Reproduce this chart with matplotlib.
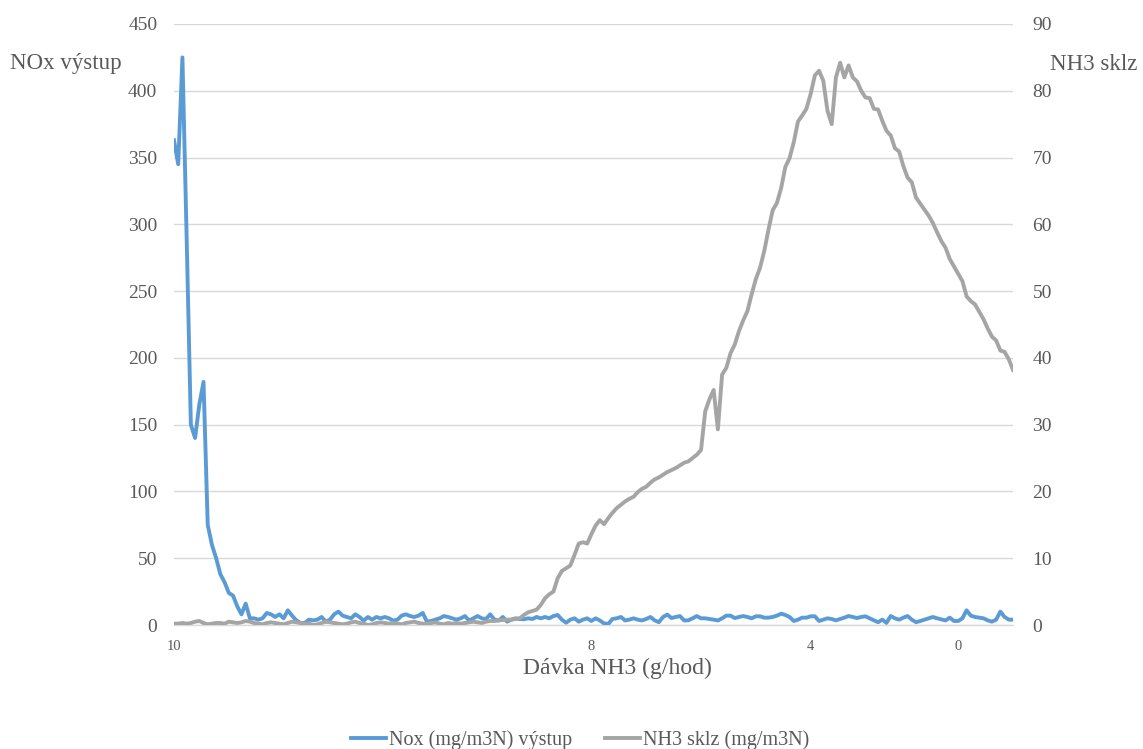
import matplotlib
matplotlib.use("Agg")
import matplotlib.pyplot as plt
from matplotlib.lines import Line2D

# NOx at the outlet (mg/m3N), one value per measurement
nox = [
    363, 345, 425, 290, 150, 140, 165, 182, 75, 60,
    50, 38, 32, 24, 22, 14, 8, 16, 5, 5,
    4, 5, 9, 8, 6, 8, 5, 11, 7, 3.5,
    1.5, 1.5, 4, 3.5, 4, 6, 2.5, 4, 8, 10,
    7, 6, 5, 8, 6, 3.3, 6, 4, 6, 5,
    6, 5, 3.3, 4, 7, 8, 6.7, 6, 7, 9,
    2.5, 3, 4, 5, 6.7, 6, 5, 4, 5, 6.7,
    3.3, 5, 6.7, 5, 4.5, 8, 4, 3.3, 6, 2.5,
    4, 5, 4.5, 4.3, 5, 4.5, 6, 5, 6, 5,
    6.7, 7.5, 4, 1.7, 4, 5, 2.5, 4, 5, 3,
    5, 3.4, 1.2, 0.8, 4.5, 5, 6, 3.4, 4, 5,
    4, 3.4, 4.5, 6, 3.5, 2.1, 6, 7.8, 5.2, 6,
    6.7, 3.4, 3.5, 5, 6.7, 5, 5, 4.5, 4, 3.4,
    5, 7, 7, 5.2, 6, 6.7, 6, 5, 6.5, 6.5,
    5.5, 5.5, 6, 7, 8.5, 7.5, 6, 3, 4, 5.5,
    5.5, 6.5, 6.5, 3, 4, 5, 4.5, 3.5, 4.5, 5.5,
    6.7, 6, 5.2, 6, 6.5, 5, 3.5, 2.1, 4, 1.6,
    6.7, 5, 4, 5.5, 6.7, 4, 2.1, 3, 4, 5,
    6, 5, 4.2, 3.4, 5.5, 3, 3, 5, 11, 7,
    6, 5.5, 5, 3.5, 2.5, 4, 10, 6, 4, 4,
]

# NH3 slip (mg/m3N), same measurements
nh3 = [
    0.2, 0.2, 0.3, 0.2, 0.3, 0.5, 0.6, 0.3, 0.1, 0.2,
    0.3, 0.3, 0.2, 0.5, 0.4, 0.3, 0.4, 0.6, 0.5, 0.3,
    0.2, 0.1, 0.3, 0.4, 0.3, 0.2, 0.1, 0.3, 0.5, 0.4,
    0.3, 0.2, 0.2, 0.0, 0.1, 0.3, 0.5, 0.4, 0.3, 0.2,
    0.1, 0.2, 0.4, 0.5, 0.3, 0.2, 0.0, 0.1, 0.3, 0.4,
    0.3, 0.2, 0.3, 0.2, 0.1, 0.3, 0.4, 0.5, 0.3, 0.2,
    0.2, 0.3, 0.4, 0.2, 0.1, 0.3, 0.2, 0.3, 0.2, 0.3,
    0.4, 0.5, 0.4, 0.3, 0.5, 0.6, 0.6, 0.7, 0.75, 0.8,
    0.8, 0.9, 1.0, 1.5, 1.9, 2.1, 2.3, 3.0, 4.0, 4.6,
    5.0, 7.0, 8.1, 8.5, 8.9, 10.5, 12.2, 12.4, 12.2, 13.6,
    14.9, 15.7, 15.1, 16.0, 16.8, 17.5, 18.0, 18.5, 18.9, 19.2,
    19.9, 20.4, 20.7, 21.3, 21.8, 22.1, 22.5, 22.9, 23.2, 23.5,
    23.9, 24.3, 24.5, 25.0, 25.5, 26.2, 32.0, 33.8, 35.2, 29.3,
    37.5, 38.5, 40.7, 42.0, 44.0, 45.6, 47.0, 49.5, 51.8, 53.5,
    56.0, 59.2, 62.1, 63.2, 65.4, 68.6, 69.9, 72.3, 75.4, 76.3,
    77.3, 79.5, 82.3, 83.0, 81.5, 77.0, 75.0, 82.0, 84.2, 82.0,
    83.8, 82.0, 81.4, 80.0, 79.0, 78.9, 77.3, 77.2, 75.5, 74.0,
    73.3, 71.4, 70.9, 68.7, 67.0, 66.3, 64.0, 63.1, 62.2, 61.3,
    60.2, 58.8, 57.5, 56.5, 54.8, 53.7, 52.6, 51.5, 49.2, 48.5,
    48.0, 46.9, 45.8, 44.4, 43.2, 42.6, 41.1, 40.9, 39.8, 38.2,
]

# NH3 dose labels shown on the category axis
dose_tick_pos = [0, 99, 151, 186]
dose_tick_labels = ["10", "8", "4", "0"]

left_ticks = list(range(0, 451, 50))
right_ticks = list(range(0, 91, 10))

BLUE = "#5B9BD5"
GRAY = "#A5A5A5"
TXT = "#595959"
GRID = "#D9D9D9"

plt.rcParams["font.family"] = ["Liberation Serif", "DejaVu Serif"]

fig = plt.figure(figsize=(11.43, 7.49), dpi=100)
ax = fig.add_axes([174 / 1143, 1 - 625 / 749, (1013 - 174) / 1143, (625 - 24) / 749])
ax2 = ax.twinx()

idx = list(range(len(nox)))
ax.plot(idx, nox, color=BLUE, lw=2.8, solid_joinstyle="round", zorder=3)
ax2.plot(idx, nh3, color=GRAY, lw=2.8, solid_joinstyle="round", zorder=3)

ax.set_xlim(0, len(nox) - 1)
ax.set_ylim(0, 450)
ax2.set_ylim(0, 90)
ax.set_yticks(left_ticks)
ax2.set_yticks(right_ticks)
ax.set_xticks(dose_tick_pos)
ax.set_xticklabels(dose_tick_labels)

ax.grid(axis="y", color=GRID, lw=1.0)
ax.set_axisbelow(True)
for a in (ax, ax2):
    for s in a.spines.values():
        s.set_visible(False)
ax.spines["bottom"].set_visible(True)
ax.spines["bottom"].set_color(GRID)
ax.spines["bottom"].set_linewidth(1.0)

ax.tick_params(axis="y", length=0, pad=12, labelsize=14, labelcolor=TXT)
ax2.tick_params(axis="y", length=0, pad=14, labelsize=14, labelcolor=TXT)
ax.tick_params(axis="x", length=0, pad=11, labelsize=10.5, labelcolor=TXT)

fig.text(10 / 1143, 1 - 64 / 749, "NOx výstup", fontsize=16.5, color=TXT,
         ha="left", va="center")
fig.text(1050 / 1143, 1 - 64 / 749, "NH3 sklz", fontsize=16.5, color=TXT,
         ha="left", va="center")
fig.text(617 / 1143, 1 - 668 / 749, "Dávka NH3 (g/hod)", fontsize=17, color=TXT,
         ha="center", va="center")

handles = [Line2D([], [], color=BLUE, lw=2.8), Line2D([], [], color=GRAY, lw=2.8)]
fig.legend(handles, ["Nox (mg/m3N) výstup", "NH3 sklz (mg/m3N)"],
           loc="center", bbox_to_anchor=(580 / 1143, 1 - 740 / 749), ncol=2,
           frameon=False, fontsize=14.5, labelcolor=TXT, handlelength=1.75,
           handletextpad=0.15, columnspacing=1.6)

fig.savefig("out.png", dpi=100, facecolor="white")
